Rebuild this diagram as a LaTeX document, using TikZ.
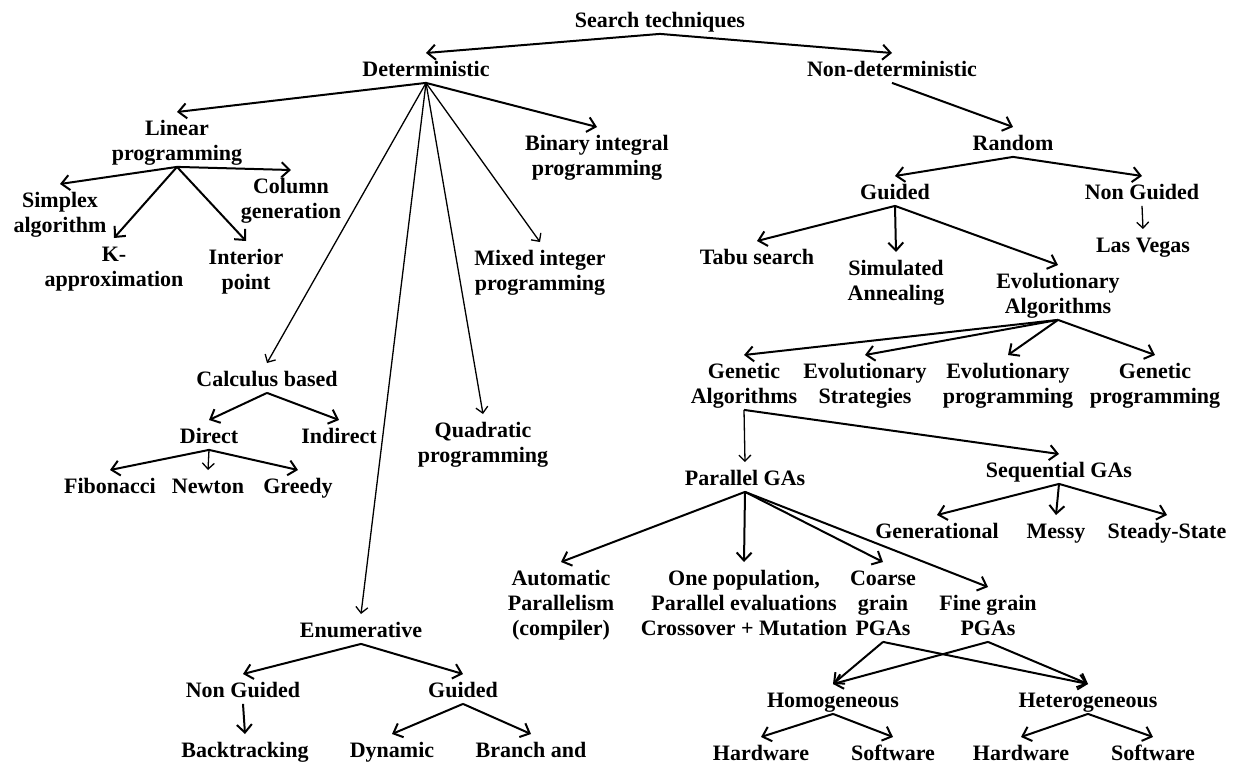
\documentclass[tikz,border=0pt]{standalone}
\usepackage{fontspec}
\setmainfont{Liberation Serif}
\usepackage{tikz}
\usetikzlibrary{arrows.meta}
\newcommand{\topgap}{\rule{0pt}{23pt}}
\newcommand{\botgap}{\rule[-6.5pt]{0pt}{6.5pt}}
\newcommand{\lbl}[1]{\topgap#1\botgap}
\tikzset{
  treenode/.style={
    anchor=north,
    align=center,
    inner sep=0pt,
    font=\fontsize{22}{25}\selectfont\bfseries
  },
  treearrow/.style={
    -{Straight Barb[length=8pt,width=15pt]},
    line width=2pt,
    draw=black
  },
  thinarrow/.style={
    -{Straight Barb[length=6pt,width=12pt]},
    line width=1.3pt,
    draw=black
  }
}

\begin{document}
\begin{tikzpicture}[x=1pt,y=-1pt]
\useasboundingbox (0,0) rectangle (1242,766);

\node[treenode] (search) at (660,4) {\lbl{Search techniques}};
\node[treenode] (det) at (426,53) {\lbl{Deterministic}};
\node[treenode] (nondet) at (892,53) {\lbl{Non-deterministic}};

\node[treenode] (linprog) at (177,112) {\lbl{Linear\\programming}};
\node[treenode] (binprog) at (597,127) {\lbl{Binary integral\\programming}};
\node[treenode] (simplex) at (60,184) {\lbl{Simplex\\algorithm}};
\node[treenode] (column) at (291,170) {\lbl{Column\\generation}};
\node[treenode] (kapprox) at (114,238) {\lbl{K-\\approximation}};
\node[treenode] (interior) at (246,241) {\lbl{Interior\\point}};
\node[treenode] (mixed) at (540,242) {\lbl{Mixed integer\\programming}};
\node[treenode] (calc) at (267,363) {\lbl{Calculus based}};
\node[treenode] (direct) at (209,420) {\lbl{Direct}};
\node[treenode] (indirect) at (339,420) {\lbl{Indirect}};
\node[treenode] (fib) at (110,470) {\lbl{Fibonacci}};
\node[treenode] (newton) at (208,470) {\lbl{Newton}};
\node[treenode] (greedy) at (298,470) {\lbl{Greedy}};
\node[treenode] (quad) at (483,414) {\lbl{Quadratic\\programming}};
\node[treenode] (enum) at (361,614) {\lbl{Enumerative}};
\node[treenode] (enumng) at (243,674) {\lbl{Non Guided}};
\node[treenode] (enumgd) at (463,674) {\lbl{Guided}};
\node[treenode] (backtrack) at (245,734) {\lbl{Backtracking}};
\node[treenode] (dynamic) at (392,734) {\lbl{Dynamic}};
\node[treenode] (branch) at (531,734) {\lbl{Branch and}};

\node[treenode] (random) at (1013,127) {\lbl{Random}};
\node[treenode] (randgd) at (895,176) {\lbl{Guided}};
\node[treenode] (randng) at (1142,176) {\lbl{Non Guided}};
\node[treenode] (vegas) at (1143,229) {\lbl{Las Vegas}};
\node[treenode] (tabu) at (757,241) {\lbl{Tabu search}};
\node[treenode] (anneal) at (896,252) {\lbl{Simulated\\Annealing}};
\node[treenode] (evoalg) at (1058,265) {\lbl{Evolutionary\\Algorithms}};
\node[treenode] (genalg) at (744,355) {\lbl{Genetic\\Algorithms}};
\node[treenode] (evostrat) at (865,355) {\lbl{Evolutionary\\Strategies}};
\node[treenode] (evoprog) at (1008,355) {\lbl{Evolutionary\\programming}};
\node[treenode] (genprog) at (1155,355) {\lbl{Genetic\\programming}};
\node[treenode] (parga) at (745,462) {\lbl{Parallel GAs}};
\node[treenode] (seqga) at (1059,454) {\lbl{Sequential GAs}};
\node[treenode] (generational) at (937,515) {\lbl{Generational}};
\node[treenode] (messy) at (1056,515) {\lbl{Messy}};
\node[treenode] (steady) at (1167,515) {\lbl{Steady-State}};
\node[treenode] (autopar) at (561,562) {\lbl{Automatic\\Parallelism\\(compiler)}};
\node[treenode] (onepop) at (744,562) {\lbl{One population,\\Parallel evaluations\\Crossover + Mutation}};
\node[treenode] (coarse) at (883,562) {\lbl{Coarse\\grain\\PGAs}};
\node[treenode] (fine) at (988,587) {\lbl{Fine grain\\PGAs}};
\node[treenode] (homog) at (833,684) {\lbl{Homogeneous}};
\node[treenode] (heterog) at (1088,684) {\lbl{Heterogeneous}};
\node[treenode] (hwhomog) at (761,737) {\lbl{Hardware}};
\node[treenode] (swhomog) at (893,737) {\lbl{Software}};
\node[treenode] (hwheterog) at (1021,737) {\lbl{Hardware}};
\node[treenode] (swheterog) at (1153,737) {\lbl{Software}};

\draw[treearrow] (search.south) -- (det.north);
\draw[treearrow] (search.south) -- (nondet.north);

\draw[treearrow] (det.south) -- (linprog.north);
\draw[treearrow] (det.south) -- (binprog.north);
\draw[thinarrow] (det.south) -- (mixed.north);
\draw[thinarrow] (det.south) -- (quad.north);
\draw[thinarrow] (det.south) -- (calc.north);
\draw[thinarrow] (det.south) -- (enum.north);
\draw[treearrow] (linprog.south) -- (simplex.north);
\draw[treearrow] (linprog.south) -- (column.north);
\draw[treearrow] (linprog.south) -- (kapprox.north);
\draw[treearrow] (linprog.south) -- (interior.north);
\draw[treearrow] (calc.south) -- (direct.north);
\draw[treearrow] (calc.south) -- (indirect.north);
\draw[treearrow] (direct.south) -- (fib.north);
\draw[thinarrow] (direct.south) -- (newton.north);
\draw[treearrow] (direct.south) -- (greedy.north);
\draw[treearrow] (enum.south) -- (enumng.north);
\draw[treearrow] (enum.south) -- (enumgd.north);
\draw[treearrow] (enumng.south) -- (backtrack.north);
\draw[treearrow] (enumgd.south) -- (dynamic.north);
\draw[treearrow] (enumgd.south) -- (branch.north);

\draw[treearrow] (nondet.south) -- (random.north);
\draw[treearrow] (random.south) -- (randgd.north);
\draw[treearrow] (random.south) -- (randng.north);
\draw[thinarrow] (randng.south) -- (vegas.north);
\draw[treearrow] (randgd.south) -- (tabu.north);
\draw[treearrow] (randgd.south) -- (anneal.north);
\draw[treearrow] (randgd.south) -- (evoalg.north);
\draw[treearrow] (evoalg.south) -- (genalg.north);
\draw[treearrow] (evoalg.south) -- (evostrat.north);
\draw[treearrow] (evoalg.south) -- (evoprog.north);
\draw[treearrow] (evoalg.south) -- (genprog.north);
\draw[thinarrow] (genalg.south) -- (parga.north);
\draw[treearrow] (genalg.south) -- (seqga.north);
\draw[treearrow] (seqga.south) -- (generational.north);
\draw[treearrow] (seqga.south) -- (messy.north);
\draw[treearrow] (seqga.south) -- (steady.north);
\draw[treearrow] (parga.south) -- (autopar.north);
\draw[treearrow] (parga.south) -- (onepop.north);
\draw[treearrow] (parga.south) -- (coarse.north);
\draw[treearrow] (parga.south) -- (fine.north);
\draw[treearrow] (coarse.south) -- (homog.north);
\draw[treearrow] (coarse.south) -- (heterog.north);
\draw[treearrow] (fine.south) -- (homog.north);
\draw[treearrow] (fine.south) -- (heterog.north);
\draw[treearrow] (homog.south) -- (hwhomog.north);
\draw[treearrow] (homog.south) -- (swhomog.north);
\draw[treearrow] (heterog.south) -- (hwheterog.north);
\draw[treearrow] (heterog.south) -- (swheterog.north);
\end{tikzpicture}
\end{document}
